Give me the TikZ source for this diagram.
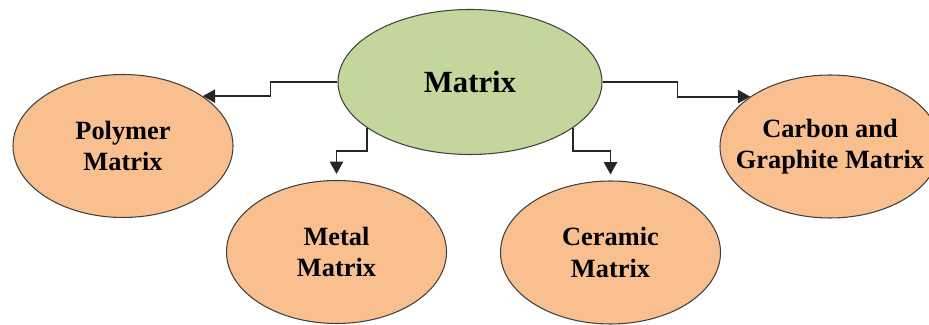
\documentclass[tikz,border=0pt]{standalone}
\usepackage{fontspec}
\setmainfont{Liberation Serif}
\usetikzlibrary{shapes.geometric,arrows.meta,positioning}
\definecolor{rootgreen}{RGB}{195,214,155}
\definecolor{leaforange}{RGB}{250,191,143}
\begin{document}
\begin{tikzpicture}[
        >={Triangle[width=7.5pt,length=7pt]},
        root/.style={ellipse, draw=black!75, fill=rootgreen, line width=0.6pt, minimum width=5.28cm, minimum height=2.9cm, inner sep=0pt, align=center, font=\fontsize{17.5}{21}\selectfont\bfseries},
        leaf/.style={ellipse, draw=black!75, fill=leaforange, line width=0.6pt, minimum width=4.4cm, minimum height=2.86cm, inner sep=0pt, inner xsep=-0.4cm, align=center, font=\fontsize{15}{18}\selectfont\bfseries},
        line/.style={->, line width=1.1pt, draw=black!85}
    ]
    \useasboundingbox (0,0) rectangle (18.58,6.5);

    % --- Main Node ---
    \node[root] (matrix) at (9.4, 4.86) {Matrix};

    % --- Matrix Types ---
    \node[leaf] (polymer) at (2.46, 3.58) {Polymer\\Matrix};
    \node[leaf] (metal) at (6.73, 1.46) {Metal\\Matrix};
    \node[leaf] (ceramic) at (12.21, 1.45) {Ceramic\\Matrix};
    \node[leaf] (carbon) at (16.6, 3.57) {Carbon and\\Graphite Matrix};

    % --- Connections ---
    \draw[line] (matrix.west) -- ++(-1.34, 0) |- (polymer.32);
    \draw[line, shorten >=1.2mm] (matrix.204) -- ++(0, -0.46) -| (metal.north);
    \draw[line, shorten >=1.2mm] (matrix.-24) -- ++(0, -0.46) -| (ceramic.north);
    \draw[line] (matrix.east) -- ++(1.5, 0) |- (carbon.148);

\end{tikzpicture}
\end{document}
